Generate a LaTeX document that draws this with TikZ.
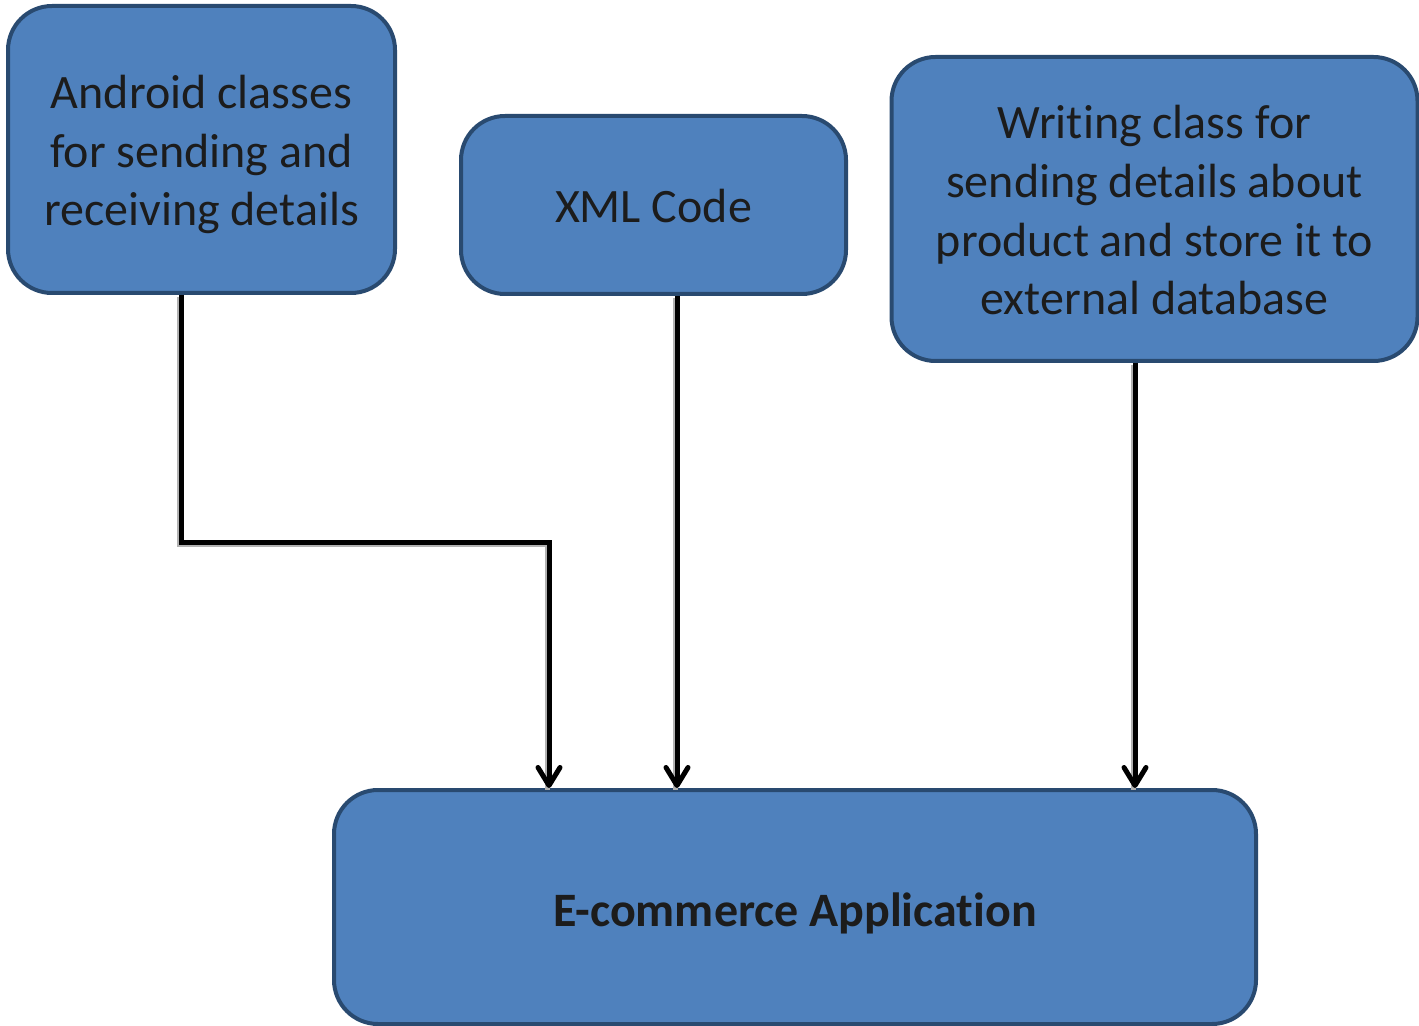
\documentclass[tikz,border=0pt]{standalone}
\usepackage{fontspec}
\setmainfont{Carlito}[Ligatures=NoCommon]
\usetikzlibrary{arrows.meta}
\definecolor{boxfill}{HTML}{4F81BD}
\definecolor{boxedge}{HTML}{294A70}
\definecolor{ink}{HTML}{1C1C1C}
% lower a block of centred lines without changing its reserved extent
\newcommand\droptext[2]{\raisebox{-#1}[\height][\depth]{\begin{tabular}{@{}c@{}}#2\end{tabular}}}
\begin{document}
\begin{tikzpicture}[x=0.5pt,y=-0.5pt,
  block/.style={draw=boxedge, fill=boxfill, line width=2pt, rounded corners=22pt,
    text=ink, inner sep=0pt,
    font=\fontsize{24}{29.3}\selectfont},
  conn/.style={draw=black, line width=2.5pt,
    -{Straight Barb[length=9pt,width=11pt,line cap=round,line join=round]},
    preaction={draw=black!30, line width=2.5pt, -, transform canvas={xshift=-0.6pt,yshift=-1pt}}}
]
\useasboundingbox (0,0) rectangle (1419,1026);

\node[block, minimum width=387*0.5pt, minimum height=287*0.5pt] (A) at (201.5,149.5)
  {\droptext{3pt}{Android classes\\for sending and\\receiving details}};
\node[block, minimum width=385*0.5pt, minimum height=178*0.5pt] (B) at (653.5,205)
  {\droptext{3pt}{XML Code}};
\node[block, minimum width=526*0.5pt, minimum height=304*0.5pt] (C) at (1154.5,209)
  {\droptext{3pt}{Writing class for\\sending details about\\product and store it to\\external database}};
\node[block, minimum width=922*0.5pt, minimum height=234*0.5pt] (D) at (795,907)
  {\droptext{4pt}{\bfseries E-commerce Application}};

% connector routing points
\coordinate (ka) at (181,542);
\coordinate (kd) at (549,0);
\coordinate (kb) at (677,0);
\coordinate (kc) at (1135,0);

\draw[conn] (A.south -| ka) -- (ka) -| (D.north -| kd);
\draw[conn] (B.south -| kb) -- (D.north -| kb);
\draw[conn] (C.south -| kc) -- (D.north -| kc);
\end{tikzpicture}
\end{document}
